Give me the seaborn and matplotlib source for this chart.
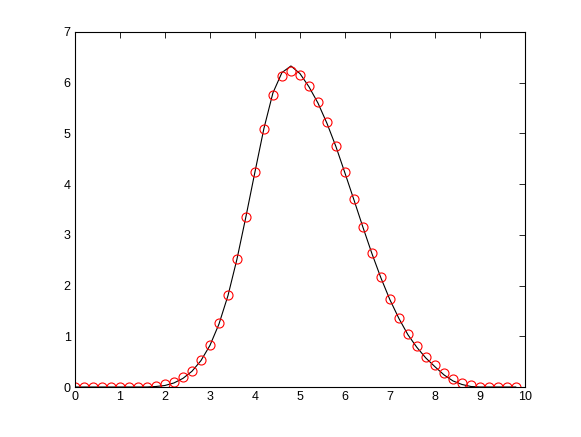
import numpy as np
import seaborn as sns
import matplotlib
matplotlib.use("Agg")
import matplotlib.pyplot as plt

# x grid shared by both series (0, 0.2, ..., 9.8)
x_vals = [round(0.2 * i, 1) for i in range(50)]

# black curve
line_vals = [0, 0, 0, 0, 0, 0, 0, 0, 0, 0.01,
             0.03, 0.08, 0.17, 0.31, 0.52, 0.82, 1.24, 1.80, 2.52, 3.36,
             4.24, 5.10, 5.80, 6.20, 6.33, 6.18, 5.92, 5.60, 5.20, 4.74,
             4.22, 3.69, 3.15, 2.63, 2.15, 1.72, 1.35, 1.03, 0.78, 0.57,
             0.40, 0.24, 0.12, 0.05, 0.01, 0, 0, 0, 0, 0]

# red circles
circle_vals = [0, 0, 0, 0, 0, 0, 0, 0, 0.01, 0.02,
               0.05, 0.10, 0.20, 0.32, 0.53, 0.83, 1.26, 1.82, 2.53, 3.35,
               4.23, 5.08, 5.75, 6.14, 6.24, 6.16, 5.93, 5.61, 5.22, 4.75,
               4.23, 3.70, 3.16, 2.64, 2.16, 1.73, 1.36, 1.05, 0.80, 0.60,
               0.43, 0.27, 0.15, 0.08, 0.03, 0.01, 0, 0, 0, 0]

sns.set_style("white")
plt.rcParams['font.family'] = ['Liberation Sans', 'DejaVu Sans']

fig = plt.figure(figsize=(5.81, 4.37), dpi=100)
ax = fig.add_axes([0.129, 0.1144, 0.7745, 0.8124])

sns.lineplot(x=x_vals, y=line_vals, color='black', linewidth=0.8, ax=ax)
sns.lineplot(x=x_vals, y=circle_vals, linestyle='none', marker='o',
             markerfacecolor='none', markeredgecolor='red', markersize=6.5,
             markeredgewidth=0.8, ax=ax)

ax.set_xlim(0, 10)
ax.set_ylim(0, 7)
ax.set_xticks(range(0, 11))
ax.set_yticks(range(0, 8))
ax.tick_params(direction='in', top=True, right=True, labelsize=9,
               length=4, width=0.6, pad=3, colors='black')
for s in ax.spines.values():
    s.set_visible(True)
    s.set_color('black')
    s.set_linewidth(0.8)

fig.savefig("out.png", dpi=100)
